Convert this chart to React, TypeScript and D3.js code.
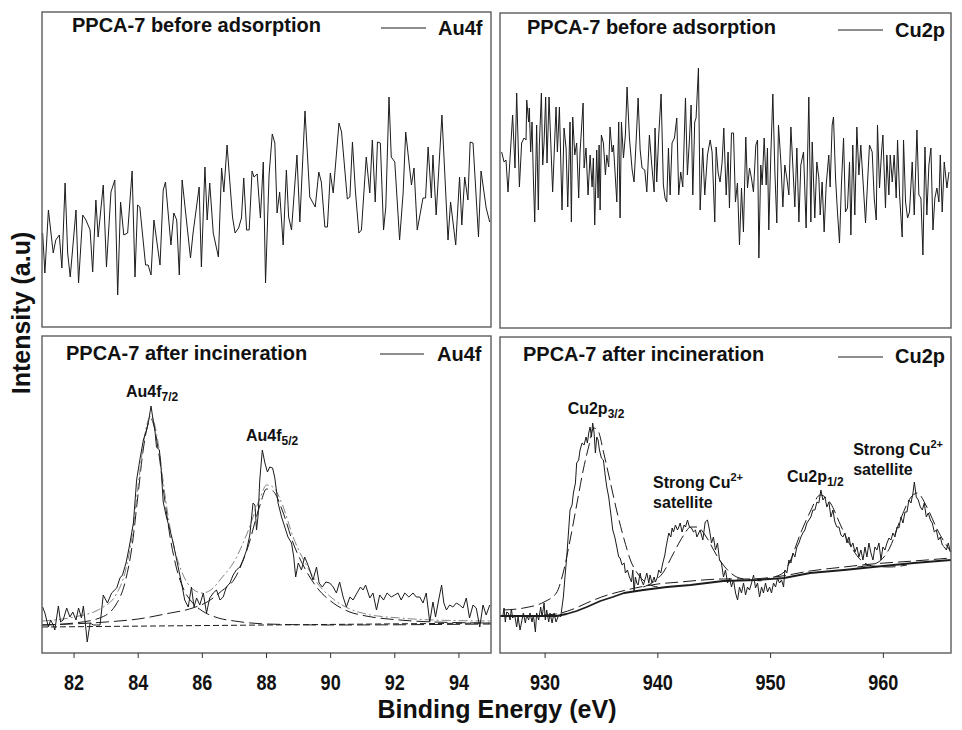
import React from "react";
import * as d3 from "d3";

type P = [number, number];

// ---------- axes ----------
const auDomain: [number, number] = [81, 95];
const cuDomain: [number, number] = [926, 966];
const auTicks = [82, 84, 86, 88, 90, 92, 94];
const cuTicks = [930, 940, 950, 960];

// ---------- PPCA-7 before adsorption : Au4f ----------
const auBefore: P[] = [
  [81.02,94],[81.09,54],[81.20,117],[81.35,74],[81.43,87],[81.54,92],[81.62,59],[81.72,144],[81.80,74],[81.88,50],
  [82.06,117],[82.14,44],[82.27,112],[82.37,107],[82.50,97],[82.58,55],[82.68,127],[82.75,90],[82.91,142],[83.01,60],
  [83.15,135],[83.27,147],[83.36,32],[83.45,125],[83.55,92],[83.67,94],[83.81,156],[83.90,50],[83.98,122],[84.05,120],
  [84.23,62],[84.31,62],[84.40,52],[84.49,107],[84.68,62],[84.78,137],[84.85,145],[85.02,82],[85.11,114],[85.20,107],
  [85.28,52],[85.37,147],[85.63,69],[85.71,94],[85.90,140],[85.97,60],[86.08,160],[86.15,107],[86.23,144],[86.34,94],
  [86.50,70],[86.60,159],[86.67,135],[86.77,182],[86.94,110],[87.02,94],[87.13,99],[87.22,109],[87.29,149],[87.38,97],
  [87.46,97],[87.55,156],[87.61,150],[87.71,153],[87.81,109],[87.90,165],[87.97,44],[88.08,152],[88.18,193],[88.26,184],
  [88.33,114],[88.41,135],[88.52,82],[88.62,157],[88.69,110],[88.78,97],[88.95,172],[89.04,105],[89.20,216],[89.35,130],
  [89.52,120],[89.63,155],[89.71,145],[89.82,100],[89.90,100],[89.99,154],[90.08,134],[90.26,204],[90.34,195],[90.52,128],
  [90.60,130],[90.68,185],[90.77,137],[90.88,94],[90.96,97],[91.11,170],[91.22,134],[91.30,187],[91.39,125],[91.46,185],
  [91.55,184],[91.65,97],[91.72,120],[91.82,230],[91.89,170],[92.00,165],[92.15,87],[92.26,134],[92.34,195],[92.52,142],
  [92.60,159],[92.70,97],[92.88,129],[92.96,129],[93.04,180],[93.14,129],[93.19,172],[93.29,112],[93.47,212],[93.66,87],
  [93.74,125],[93.90,82],[94.02,150],[94.09,102],[94.18,150],[94.28,127],[94.35,185],[94.44,184],[94.61,90],[94.69,156],
  [94.85,119],[94.96,105]
];

// ---------- PPCA-7 before adsorption : Cu2p ----------
const cuBefore: P[] = [
  [926.15,176],[926.36,166],[926.53,168],[926.71,136],[927.12,213],[927.33,160],[927.48,235],[927.72,141],[927.92,185],[928.13,190],
  [928.31,188],[928.37,228],[928.54,206],[928.60,220],[928.72,176],[928.84,206],[928.96,150],[929.08,106],[929.25,203],[929.40,118],
  [929.49,183],[929.67,235],[929.79,163],[929.91,186],[930.05,231],[930.17,165],[930.35,231],[930.50,186],[930.67,136],[930.97,221],
  [931.09,176],[931.27,221],[931.50,118],[931.68,200],[931.86,180],[932.01,121],[932.21,206],[932.33,106],[932.45,211],[932.63,173],
  [932.80,185],[932.98,130],[933.10,176],[933.37,225],[933.46,160],[933.63,180],[933.81,133],[933.99,173],[934.17,141],[934.28,170],
  [934.40,103],[934.58,178],[934.70,130],[934.79,183],[934.88,118],[934.99,193],[935.17,185],[935.35,153],[935.47,173],[935.64,161],
  [935.76,201],[935.94,176],[936.06,183],[936.36,126],[936.53,206],[936.65,110],[936.77,206],[936.95,170],[937.12,193],[937.27,241],
  [937.48,190],[937.72,158],[937.89,146],[938.07,186],[938.25,230],[938.43,178],[938.60,160],[938.84,158],[939.02,136],[939.25,193],
  [939.46,163],[939.67,136],[939.75,200],[939.90,146],[940.08,193],[940.29,234],[940.49,143],[940.64,130],[940.79,126],[940.94,180],
  [941.09,133],[941.26,185],[941.47,190],[941.68,210],[941.85,133],[942.03,156],[942.21,141],[942.45,230],[942.62,153],[942.80,188],
  [942.95,223],[943.10,133],[943.27,206],[943.39,210],[943.60,260],[943.75,118],[943.98,180],[944.16,133],[944.40,173],[944.64,188],
  [944.81,176],[945.05,106],[945.17,181],[945.35,155],[945.52,146],[945.70,166],[945.85,200],[946.06,133],[946.23,176],[946.35,120],
  [946.53,195],[946.71,195],[946.88,126],[947.06,145],[947.24,83],[947.42,140],[947.59,96],[947.80,191],[947.95,140],[948.13,160],
  [948.30,150],[948.48,136],[948.69,183],[948.84,188],[948.96,70],[949.13,163],[949.25,143],[949.43,190],[949.61,143],[949.72,180],
  [949.84,98],[950.02,173],[950.20,234],[950.38,156],[950.55,105],[950.70,203],[950.91,166],[951.09,121],[951.26,163],[951.44,150],
  [951.62,133],[951.80,201],[951.97,163],[952.15,121],[952.33,180],[952.51,106],[952.68,163],[952.92,176],[953.15,100],[953.39,231],
  [953.57,106],[953.69,186],[953.92,110],[954.10,166],[954.28,150],[954.40,113],[954.57,146],[954.75,96],[954.93,143],[955.16,173],
  [955.28,141],[955.46,203],[955.58,211],[955.76,150],[955.93,116],[956.11,85],[956.29,146],[956.47,190],[956.64,116],[956.82,120],
  [957.00,166],[957.12,93],[957.29,183],[957.47,113],[957.65,201],[957.83,153],[958.00,183],[958.18,150],[958.42,105],[958.60,146],
  [958.77,183],[959.01,176],[959.19,130],[959.37,108],[959.48,203],[959.66,140],[959.84,176],[959.96,193],[960.19,120],[960.31,173],
  [960.49,133],[960.61,173],[960.79,146],[960.96,173],[961.14,130],[961.26,188],[961.44,133],[961.67,91],[961.79,188],[961.97,126],
  [962.15,110],[962.32,116],[962.56,166],[962.74,113],[962.98,198],[963.15,133],[963.33,130],[963.51,73],[963.69,181],[963.86,113],
  [964.04,163],[964.22,180],[964.40,98],[964.57,130],[964.75,140],[964.93,126],[965.05,173],[965.22,116],[965.40,166],[965.64,140],
  [965.82,156]
];

// ---------- PPCA-7 after incineration : Au4f ----------
const auAfterRaw: P[] = [
  [81.02,46],[81.09,40],[81.20,26],[81.27,33],[81.35,28],[81.40,23],[81.51,47],[81.58,31],[81.66,33],[81.77,45],
  [81.87,36],[81.96,41],[82.06,33],[82.14,45],[82.23,35],[82.29,47],[82.35,30],[82.41,11],[82.50,30],[82.60,28],
  [82.70,28],[82.81,28],[82.91,58],[83.04,50],[83.17,60],[83.33,65],[83.43,75],[83.51,78],[83.62,90],[83.72,106],
  [83.85,130],[83.95,173],[84.05,193],[84.16,213],[84.26,223],[84.33,233],[84.40,247],[84.45,236],[84.52,223],[84.57,206],
  [84.66,203],[84.71,186],[84.78,151],[84.88,136],[84.99,123],[85.09,110],[85.20,93],[85.35,70],[85.45,53],[85.56,46],
  [85.66,66],[85.74,46],[85.82,55],[85.92,48],[86.03,60],[86.13,40],[86.23,55],[86.34,60],[86.44,63],[86.55,53],
  [86.65,56],[86.75,66],[86.86,70],[86.96,78],[87.06,83],[87.17,86],[87.27,93],[87.38,103],[87.48,118],[87.58,150],
  [87.64,148],[87.69,123],[87.74,138],[87.79,173],[87.87,203],[87.95,190],[88.03,181],[88.10,186],[88.19,185],[88.26,175],
  [88.36,150],[88.47,136],[88.57,126],[88.67,116],[88.78,110],[88.85,96],[88.91,76],[88.99,90],[89.09,83],[89.19,96],
  [89.27,90],[89.35,83],[89.45,73],[89.56,86],[89.64,70],[89.74,66],[89.85,71],[89.97,70],[90.08,66],[90.18,60],
  [90.28,71],[90.39,56],[90.49,46],[90.60,56],[90.70,53],[90.82,60],[90.93,66],[91.01,63],[91.09,68],[91.22,55],
  [91.32,60],[91.43,43],[91.53,58],[91.65,53],[91.76,60],[91.89,56],[92.00,58],[92.10,60],[92.20,53],[92.31,60],
  [92.44,56],[92.57,60],[92.67,56],[92.78,56],[92.88,50],[92.98,60],[93.09,31],[93.19,51],[93.27,36],[93.38,55],
  [93.46,68],[93.53,50],[93.61,43],[93.71,48],[93.81,46],[93.92,50],[94.02,48],[94.13,45],[94.23,55],[94.33,35],
  [94.44,48],[94.54,45],[94.65,26],[94.75,48],[94.85,38],[94.96,48]
];
const auBackground: P[] = [[81,26],[88,28],[95,30]];
const au72Fit: P[] = [
  [81,28],[82,30],[82.8,35],[83.3,48],[83.6,72],[83.8,105],[84.0,160],[84.15,202],[84.3,228],[84.4,234],[84.5,226],
  [84.65,198],[84.8,160],[85.0,115],[85.2,84],[85.4,65],[85.7,50],[86.0,42],[86.5,35],[87.0,32],[88.0,29],[90,28],[95,29]
];
const au52Fit: P[] = [
  [81,28],[83,31],[84,34],[85,40],[85.6,44],[86.2,52],[86.6,62],[87.0,74],[87.4,104],[87.8,148],[88.0,164],[88.2,162],
  [88.5,142],[88.83,110],[89.24,82],[89.56,66],[90.08,50],[90.6,41],[91.1,37],[92.15,33],[93.2,31],[95,30]
];
const auEnvelope: P[] = [
  [81,32],[82,36],[82.8,44],[83.3,58],[83.6,82],[83.8,115],[84.0,168],[84.15,207],[84.3,232],[84.4,237],[84.5,230],
  [84.65,204],[84.8,166],[85.0,124],[85.2,96],[85.4,78],[85.7,64],[86.0,60],[86.3,64],[86.6,75],[87.0,92],[87.4,120],
  [87.8,155],[88.0,168],[88.2,166],[88.5,148],[88.83,116],[89.24,88],[89.56,71],[90.08,54],[90.6,44],[91.1,39],
  [92.15,35],[93.2,33],[95,32]
];

// ---------- PPCA-7 after incineration : Cu2p ----------
const cuAfterRaw: P[] = [
  [926.24,36],[926.36,45],[926.47,31],[926.59,41],[926.74,40],[926.89,33],[927.01,44],[927.12,35],[927.30,38],[927.48,26],
  [927.60,36],[927.78,23],[927.95,33],[928.07,40],[928.25,30],[928.37,38],[928.54,33],[928.66,40],[928.84,31],[928.96,38],
  [929.14,21],[929.25,40],[929.43,33],[929.61,46],[929.73,36],[929.91,50],[930.02,33],[930.14,43],[930.32,31],[930.44,40],
  [930.62,30],[930.79,40],[930.97,31],[931.21,38],[931.38,36],[931.50,46],[931.62,56],[931.74,73],[931.92,96],[932.07,120],
  [932.21,143],[932.39,148],[932.51,160],[932.69,170],[932.80,190],[932.98,193],[933.10,203],[933.28,210],[933.46,208],[933.63,216],
  [933.75,210],[933.87,220],[933.99,226],[934.11,216],[934.22,230],[934.34,221],[934.46,200],[934.58,216],[934.70,213],[934.82,203],
  [934.99,195],[935.17,193],[935.35,176],[935.47,166],[935.64,156],[935.82,140],[936.00,123],[936.18,116],[936.36,106],[936.53,96],
  [936.65,95],[936.83,88],[937.01,90],[937.12,80],[937.30,83],[937.48,76],[937.66,71],[937.78,83],[937.89,61],[938.01,76],
  [938.13,70],[938.25,68],[938.43,80],[938.54,73],[938.72,68],[938.90,75],[939.02,80],[939.20,70],[939.31,78],[939.49,70],
  [939.67,76],[939.79,71],[939.96,76],[940.08,83],[940.26,80],[940.44,90],[940.62,98],[940.73,106],[940.85,113],[940.97,120],
  [941.15,116],[941.27,125],[941.38,121],[941.56,128],[941.74,123],[941.86,126],[941.98,130],[942.15,121],[942.33,128],[942.45,126],
  [942.63,133],[942.80,126],[942.98,125],[943.16,121],[943.34,123],[943.46,116],[943.63,120],[943.75,123],[943.99,113],[944.20,131],
  [944.40,133],[944.58,123],[944.76,110],[944.93,116],[945.11,103],[945.29,110],[945.47,93],[945.64,90],[945.82,76],[946.00,83],
  [946.18,70],[946.36,75],[946.53,66],[946.71,73],[946.89,60],[947.07,53],[947.24,66],[947.42,60],[947.60,70],[947.78,58],
  [947.95,66],[948.13,63],[948.31,70],[948.49,78],[948.66,65],[948.84,70],[949.02,56],[949.20,66],[949.37,60],[949.55,70],
  [949.73,61],[949.91,66],[950.08,60],[950.26,70],[950.44,66],[950.62,75],[950.79,70],[950.97,73],[951.15,66],[951.27,83],
  [951.44,80],[951.62,93],[951.80,90],[951.98,100],[952.15,96],[952.33,106],[952.51,110],[952.69,116],[952.86,120],[953.04,123],
  [953.22,130],[953.40,133],[953.57,136],[953.75,143],[953.93,143],[954.11,151],[954.28,150],[954.46,163],[954.64,153],[954.82,156],
  [954.99,146],[955.17,151],[955.35,136],[955.53,143],[955.70,131],[955.88,126],[956.06,126],[956.24,118],[956.41,116],[956.59,120],
  [956.77,110],[956.95,116],[957.12,106],[957.30,110],[957.48,101],[957.66,106],[957.83,96],[958.01,103],[958.19,93],[958.37,106],
  [958.54,96],[958.72,110],[958.90,100],[959.08,93],[959.25,106],[959.43,103],[959.61,110],[959.79,93],[959.96,106],[960.14,103],
  [960.32,110],[960.50,115],[960.67,113],[960.85,120],[961.03,116],[961.21,126],[961.38,125],[961.56,136],[961.74,130],[961.92,141],
  [962.09,141],[962.27,153],[962.45,150],[962.63,160],[962.75,171],[962.92,156],[963.10,153],[963.28,146],[963.46,143],[963.63,150],
  [963.81,136],[963.99,140],[964.17,133],[964.34,130],[964.52,121],[964.70,123],[964.88,113],[965.05,116],[965.23,108],[965.41,106],
  [965.59,103],[965.76,110],[965.94,101]
];
const cuBackground: P[] = [
  [926,37],[931,37],[931.9,39],[932.8,42],[933.7,46],[934.9,52],[936,56],[937,60],[938.7,63],[940.8,66],
  [942.9,68],[945.8,72],[948.8,73],[951.2,75],[953.5,80],[956.5,83],[959.1,86],[962.7,90],[966,93]
];
const cuBaseFit: P[] = [
  [929.9,38],[931,39],[932.5,44],[933.7,50],[935,56],[936.5,61],[938,65],[940,69],[942,71],[944,73],
  [945.8,74],[948,74],[951,77],[953.5,82],[956.5,86],[959,89],[962.7,92],[966,95]
];
const cu32Fit: P[] = [
  [926.3,43],[928.1,45],[929.9,51],[931.0,60],[931.6,80],[932.2,112],[932.8,148],[933.4,184],[933.9,208],[934.3,225],
  [934.7,222],[935.2,200],[935.8,170],[936.4,140],[937.0,114],[937.6,92],[938.3,78],[939.0,70],[940.0,66]
];
const cuSat1Fit: P[] = [
  [938.7,66],[939.6,71],[940.5,81],[941.4,100],[942.3,118],[942.9,126],[943.5,126],[944.3,116],[945.2,98],[946.1,84],
  [947.0,76],[948.2,73],[949.6,72]
];
const cu12Fit: P[] = [
  [948.8,73],[950.3,76],[951.2,81],[951.7,91],[952.6,118],[953.5,141],[954.4,158],[955.3,150],[956.2,128],[957.1,107],
  [958.0,93],[959.1,87],[960.6,86],[962.1,88]
];
const cuSat2Fit: P[] = [
  [957.7,86],[959.4,90],[960.6,106],[961.5,133],[962.4,155],[963.0,160],[963.9,145],[964.8,123],[965.7,106],[966.0,101]
];

// ---------- peak labels (energy, intensity of the label anchor) ----------
const auPeakLabels = [
  { e: 83.62, i: 256, main: "Au4f", sub: "7/2" },
  { e: 87.36, i: 212, main: "Au4f", sub: "5/2" }
];
const cuPeakLabels = [
  { e: 932.0, i: 239, main: "Cu2p", sub: "3/2" },
  { e: 951.45, i: 171, main: "Cu2p", sub: "1/2" }
];
const cuSatLabels = [
  { e: 939.58, i: 165 },
  { e: 957.32, i: 198 }
];

const FONT = "'Liberation Sans', Arial, Helvetica, sans-serif";
const INK = "#1c1c1c";

type Scale = d3.ScaleLinear<number, number>;
interface SeriesDef { data: P[]; width?: number; dash?: string; smooth?: boolean; stroke?: string }
interface PanelProps {
  id: string; x0: number; x1: number; y0: number; y1: number;
  domain: [number, number]; yMax: number; ticks?: number[];
  title: string; titleX: number; titleY: number;
  legend: string; legX0: number; legX1: number; legY: number; legTextX: number; legTextY: number;
  series: SeriesDef[];
  extra?: (x: Scale, y: Scale) => React.ReactNode;
}

function Panel(p: PanelProps) {
  const x = d3.scaleLinear().domain(p.domain).range([p.x0, p.x1]);
  const y = d3.scaleLinear().domain([0, p.yMax]).range([p.y1, p.y0]);
  return (
    <g>
      <defs>
        <clipPath id={p.id}>
          <rect x={p.x0} y={p.y0} width={p.x1 - p.x0} height={p.y1 - p.y0} />
        </clipPath>
      </defs>
      <g clipPath={`url(#${p.id})`}>
        {p.series.map((s, i) => {
          const gen = d3.line<P>()
            .x(d => x(d[0]))
            .y(d => y(d[1]))
            .curve(s.smooth ? d3.curveMonotoneX : d3.curveLinear);
          return (
            <path key={i} d={gen(s.data) ?? ""} fill="none" stroke={s.stroke ?? INK}
              strokeWidth={s.width ?? 1} strokeDasharray={s.dash} strokeLinejoin="round" />
          );
        })}
      </g>
      <rect x={p.x0} y={p.y0} width={p.x1 - p.x0} height={p.y1 - p.y0} fill="none" stroke="#5c5c5c" strokeWidth={1.4} />
      {p.ticks && p.ticks.map(t => (
        <g key={t}>
          <line x1={x(t)} x2={x(t)} y1={p.y1} y2={p.y1 + 5} stroke="#333" strokeWidth={1} />
          <text transform={`translate(${x(t)},690) scale(0.82,1)`} textAnchor="middle" fontSize={22}
            fontWeight="bold" fontFamily={FONT} fill="#111">{t}</text>
        </g>
      ))}
      <text x={p.titleX} y={p.titleY} fontSize={20} fontWeight="bold" fontFamily={FONT} fill="#111">{p.title}</text>
      <line x1={p.legX0} x2={p.legX1} y1={p.legY} y2={p.legY} stroke={INK} strokeWidth={1} />
      <text x={p.legTextX} y={p.legTextY} fontSize={20} fontWeight="bold" fontFamily={FONT} fill="#111">{p.legend}</text>
      {p.extra && p.extra(x, y)}
    </g>
  );
}

function PeakLabel({ x, y, main, sub }: { x: number; y: number; main: string; sub: string }) {
  return (
    <text x={x} y={y} fontSize={16} fontWeight="bold" fontFamily={FONT} fill="#111">
      {main}
      <tspan fontSize={12} dy={4}>{sub}</tspan>
    </text>
  );
}

function SatLabel({ x, y }: { x: number; y: number }) {
  return (
    <g fontSize={16} fontWeight="bold" fontFamily={FONT} fill="#111">
      <text x={x} y={y}>
        Strong Cu<tspan fontSize={11} dy={-7}>2+</tspan>
      </text>
      <text x={x} y={y + 20}>satellite</text>
    </g>
  );
}

export default function App() {
  const fitDash = "13,5";
  return (
    <svg width={962} height={730} viewBox="0 0 962 730"
      style={{ position: "absolute", left: 0, top: 0, background: "#fff" }}>
      <rect x={0} y={0} width={962} height={730} fill="#fff" />
      <Panel id="tl" x0={42} x1={491} y0={12} y1={327} domain={auDomain} yMax={315}
        title="PPCA-7 before adsorption" titleX={72} titleY={32}
        legend="Au4f" legX0={381} legX1={426} legY={28} legTextX={438} legTextY={35}
        series={[{ data: auBefore }]} />
      <Panel id="tr" x0={500} x1={951} y0={13} y1={328} domain={cuDomain} yMax={315}
        title="PPCA-7 before adsorption" titleX={527} titleY={34}
        legend="Cu2p" legX0={838} legX1={883} legY={30} legTextX={895} legTextY={37}
        series={[{ data: cuBefore }]} />
      <Panel id="bl" x0={42} x1={491} y0={336} y1={653} domain={auDomain} yMax={317} ticks={auTicks}
        title="PPCA-7 after incineration" titleX={66} titleY={360}
        legend="Au4f" legX0={380} legX1={424} legY={354} legTextX={437} legTextY={361}
        series={[
          { data: auBackground, dash: "6,3", width: 1 },
          { data: au72Fit, dash: fitDash, smooth: true, width: 1 },
          { data: au52Fit, dash: fitDash, smooth: true, width: 1 },
          { data: auEnvelope, smooth: true, width: 0.9, stroke: "#777", dash: "9,3,2,3" },
          { data: auAfterRaw, width: 1 }
        ]}
        extra={(x, y) => auPeakLabels.map(l => (
          <PeakLabel key={l.sub} x={x(l.e)} y={y(l.i)} main={l.main} sub={l.sub} />
        ))} />
      <Panel id="br" x0={500} x1={951} y0={337} y1={653} domain={cuDomain} yMax={316} ticks={cuTicks}
        title="PPCA-7 after incineration" titleX={523} titleY={361}
        legend="Cu2p" legX0={838} legX1={883} legY={357} legTextX={895} legTextY={363}
        series={[
          { data: cuBackground, width: 1.8 },
          { data: cuBaseFit, dash: fitDash, smooth: true, width: 1 },
          { data: cu32Fit, dash: fitDash, smooth: true, width: 1 },
          { data: cuSat1Fit, dash: fitDash, smooth: true, width: 1 },
          { data: cu12Fit, dash: fitDash, smooth: true, width: 1 },
          { data: cuSat2Fit, dash: fitDash, smooth: true, width: 1 },
          { data: cuAfterRaw, width: 1 }
        ]}
        extra={(x, y) => (
          <g>
            {cuPeakLabels.map(l => (
              <PeakLabel key={l.sub} x={x(l.e)} y={y(l.i)} main={l.main} sub={l.sub} />
            ))}
            {cuSatLabels.map((l, i) => (
              <SatLabel key={i} x={x(l.e)} y={y(l.i)} />
            ))}
          </g>
        )} />
      <text x={497} y={718} textAnchor="middle" fontSize={25} fontWeight="bold" fontFamily={FONT} fill="#111">
        Binding Energy (eV)
      </text>
      <text transform="translate(30,313) rotate(-90)" textAnchor="middle" fontSize={25} fontWeight="bold"
        fontFamily={FONT} fill="#111">
        Intensity (a.u)
      </text>
    </svg>
  );
}
